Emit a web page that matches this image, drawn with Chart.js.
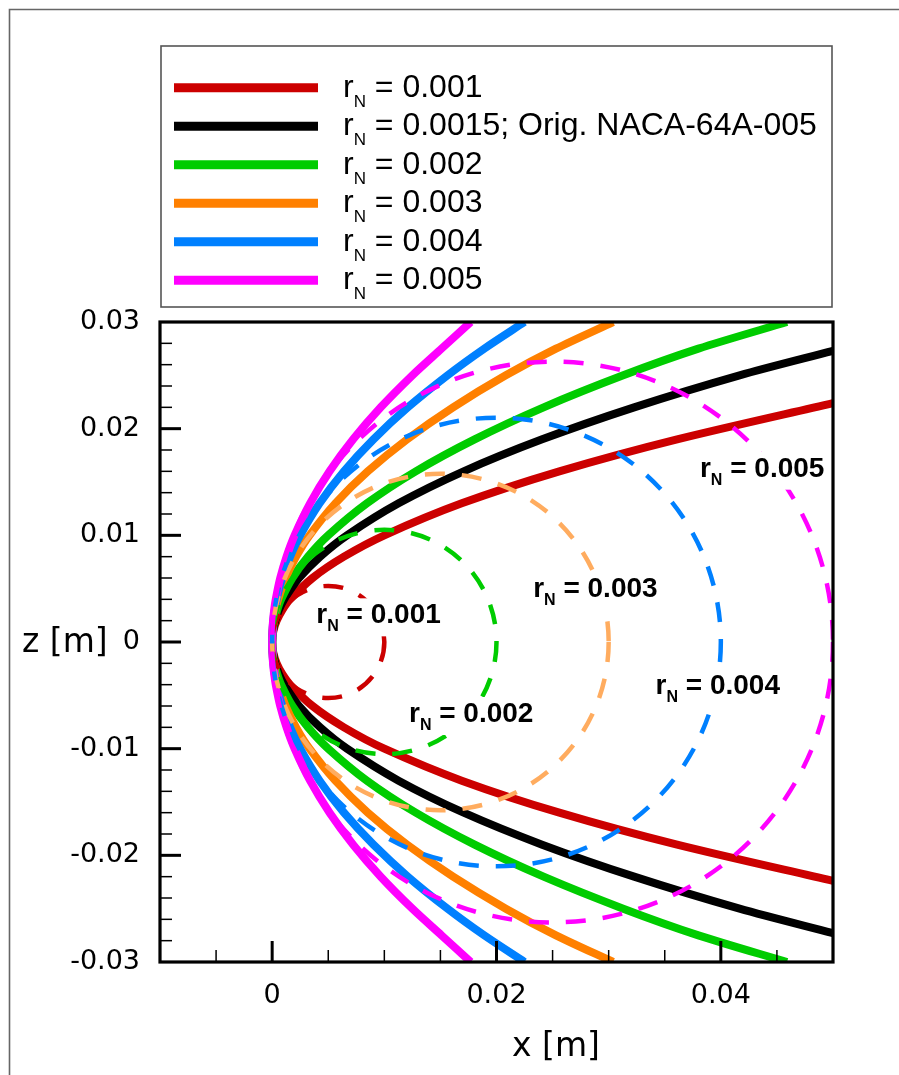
<!DOCTYPE html>
<html>
<head>
<meta charset="utf-8">
<title>Leading edge contours for different nose radii</title>
<script src="https://cdn.jsdelivr.net/npm/chart.js@4.4.0/dist/chart.umd.min.js"></script>
<style>
  html, body { margin: 0; padding: 0; background: #fff; }
  #wrap { width: 899px; height: 1075px; }
</style>
</head>
<body>
<div id="wrap"><canvas id="noseChart" width="899" height="1075"></canvas></div>
<script>
// nose radius r_N of each contour (normalised)
const noseRadii = ['0.001', '0.0015', '0.002', '0.003', '0.004', '0.005'];
const legendNotes = ['', '; Orig. NACA-64A-005', '', '', '', ''];
const lineColors = ['#cc0000', '#000000', '#00cc00', '#ff8000', '#0080ff', '#ff00ff'];

// upper surface from the leading edge, x and z in metres (lower side is the mirror)
const x_rN001 = [0, 0.0001, 0.0004, 0.0009, 0.0016, 0.0036, 0.0064, 0.0100, 0.0169, 0.0256, 0.0361, 0.0500];
const z_rN001 = [0, 0.0010, 0.0020, 0.0030, 0.0040, 0.0060, 0.0080, 0.0100, 0.0130, 0.0160, 0.0190, 0.0224];
const x_rN0015 = [0, 0.00007, 0.00027, 0.0006, 0.00107, 0.0024, 0.00427, 0.00667, 0.01127, 0.01707, 0.02407, 0.03227, 0.04167, 0.0500];
const z_rN0015 = [0, 0.0010, 0.0020, 0.0030, 0.0040, 0.0060, 0.0080, 0.0100, 0.0130, 0.0160, 0.0190, 0.0220, 0.0250, 0.0273];
const x_rN002 = [0, 0.00005, 0.0002, 0.00045, 0.0008, 0.0018, 0.0032, 0.0050, 0.00845, 0.0128, 0.01805, 0.0242, 0.0313, 0.0380, 0.0459];
const z_rN002 = [0, 0.0010, 0.0020, 0.0030, 0.0040, 0.0060, 0.0080, 0.0100, 0.0130, 0.0160, 0.0190, 0.0220, 0.0250, 0.0275, 0.0300];
const x_rN003 = [0, 0.00003, 0.00013, 0.0003, 0.00053, 0.0012, 0.00213, 0.00333, 0.00563, 0.00853, 0.01203, 0.01613, 0.02083, 0.0253, 0.0304];
const z_rN003 = [0, 0.0010, 0.0020, 0.0030, 0.0040, 0.0060, 0.0080, 0.0100, 0.0130, 0.0160, 0.0190, 0.0220, 0.0250, 0.0275, 0.0300];
const x_rN004 = [0, 0.00003, 0.0001, 0.00023, 0.0004, 0.0009, 0.0016, 0.0025, 0.00423, 0.0064, 0.00903, 0.0121, 0.01563, 0.0189, 0.0225];
const z_rN004 = [0, 0.0010, 0.0020, 0.0030, 0.0040, 0.0060, 0.0080, 0.0100, 0.0130, 0.0160, 0.0190, 0.0220, 0.0250, 0.0275, 0.0300];
const x_rN005 = [0, 0.00002, 0.00008, 0.00018, 0.00032, 0.00072, 0.00128, 0.0020, 0.00338, 0.00512, 0.00722, 0.00968, 0.0125, 0.0151, 0.0177];
const z_rN005 = [0, 0.0010, 0.0020, 0.0030, 0.0040, 0.0060, 0.0080, 0.0100, 0.0130, 0.0160, 0.0190, 0.0220, 0.0250, 0.0275, 0.0300];
const contourX = [x_rN001, x_rN0015, x_rN002, x_rN003, x_rN004, x_rN005];
const contourZ = [z_rN001, z_rN0015, z_rN002, z_rN003, z_rN004, z_rN005];

// nose circles, radius in metres, each touching the leading edge
const circleRadii = [0.005, 0.010, 0.015, 0.020, 0.025];
const circleNames = ['0.001', '0.002', '0.003', '0.004', '0.005'];
const circleColors = ['#cc0000', '#00cc00', '#ffac5f', '#0080ff', '#ff00ff'];
// where each circle label starts (x, z of the text baseline)
const circleLabelAt = [[0.00394, 0.00175], [0.0122, -0.0075], [0.02327, 0.00425], [0.03418, -0.00484], [0.03814, 0.0155]];

// labelled ticks
const xTickLabels = [0, 0.02, 0.04];
const zTickLabels = [-0.03, -0.02, -0.01, 0, 0.01, 0.02, 0.03];

const FONT = '"Liberation Sans", Arial, Helvetica, sans-serif';
const AXIS_FONT = '"DejaVu Sans", Verdana, sans-serif';

function contour(xs, zs) {
  const pts = [];
  for (let i = xs.length - 1; i > 0; i--) pts.push({x: xs[i], y: -zs[i]});
  for (let i = 0; i < xs.length; i++) pts.push({x: xs[i], y: zs[i]});
  return pts;
}

function isLabelled(list, v) {
  return list.some(t => Math.abs(t - v) < 1e-9);
}

function tickText(v) {
  return String(Math.round(v * 1000) / 1000);
}

// "r" + subscript N + rest, returns the drawn width
function drawRN(ctx, x, y, rest, big, small, drop, measureOnly) {
  ctx.font = big;
  let w = ctx.measureText('r').width;
  if (!measureOnly) ctx.fillText('r', x, y);
  ctx.font = small;
  if (!measureOnly) ctx.fillText('N', x + w, y + drop);
  w += ctx.measureText('N').width;
  ctx.font = big;
  if (!measureOnly) ctx.fillText(rest, x + w, y);
  return w + ctx.measureText(rest).width;
}

const decorations = {
  id: 'decorations',
  afterDatasetsDraw(chart) {
    const {ctx, chartArea: a, scales: {x, y}} = chart;
    ctx.save();
    ctx.beginPath();
    ctx.rect(a.left, a.top, a.right - a.left, a.bottom - a.top);
    ctx.clip();
    // dashed nose circles
    ctx.lineWidth = 4.5;
    ctx.setLineDash([20, 17]);
    circleRadii.forEach((r, i) => {
      const cx = x.getPixelForValue(r);
      const cy = y.getPixelForValue(0);
      const rad = cx - x.getPixelForValue(0);
      ctx.strokeStyle = circleColors[i];
      ctx.beginPath();
      ctx.arc(cx, cy, rad, 0, Math.PI * 2);
      ctx.stroke();
    });
    ctx.setLineDash([]);
    // circle labels on white boxes
    const big = 'bold 28px ' + FONT;
    const small = 'bold 16px ' + FONT;
    ctx.textBaseline = 'alphabetic';
    ctx.textAlign = 'left';
    circleLabelAt.forEach((p, i) => {
      const px = x.getPixelForValue(p[0]);
      const py = y.getPixelForValue(p[1]);
      const text = ' = ' + circleNames[i];
      const w = drawRN(ctx, px, py, text, big, small, 8, true);
      ctx.fillStyle = '#fff';
      ctx.fillRect(px - 6, py - 25, w + 12, 38);
      ctx.fillStyle = '#000';
      drawRN(ctx, px, py, text, big, small, 8, false);
    });
    ctx.restore();
  },
  afterDraw(chart) {
    const {ctx, chartArea: a, scales: {x, y}} = chart;
    ctx.save();
    // tick marks pointing into the plot
    ctx.strokeStyle = '#000';
    y.ticks.forEach(t => {
      if (Math.abs(t.value) > 0.0299) return;
      const py = y.getPixelForValue(t.value);
      const major = isLabelled(zTickLabels, t.value);
      ctx.lineWidth = major ? 3 : 1.5;
      ctx.beginPath();
      ctx.moveTo(a.left, py);
      ctx.lineTo(a.left + (major ? 21 : 12), py);
      ctx.stroke();
    });
    x.ticks.forEach(t => {
      if (t.value < -0.0099 || t.value > 0.0499) return;
      const px = x.getPixelForValue(t.value);
      const major = isLabelled(xTickLabels, t.value);
      ctx.lineWidth = major ? 3 : 1.5;
      ctx.beginPath();
      ctx.moveTo(px, a.bottom);
      ctx.lineTo(px, a.bottom - (major ? 21 : 12));
      ctx.stroke();
    });
    // plot frame
    ctx.lineWidth = 3.2;
    ctx.strokeRect(a.left, a.top, a.right - a.left, a.bottom - a.top);

    // axis titles
    ctx.fillStyle = '#000';
    ctx.font = '33px ' + AXIS_FONT;
    ctx.textAlign = 'left';
    ctx.textBaseline = 'alphabetic';
    ctx.fillText('z [m]', 22, 652);
    ctx.fillText('x [m]', 512, 1056);

    // legend
    ctx.fillStyle = '#fff';
    ctx.fillRect(161, 46, 671, 261);
    ctx.strokeStyle = '#555';
    ctx.lineWidth = 1.6;
    ctx.strokeRect(161, 46, 671, 261);
    noseRadii.forEach((r, i) => {
      const cy = 87.7 + i * 38.5;
      ctx.strokeStyle = lineColors[i];
      ctx.lineWidth = 9;
      ctx.beginPath();
      ctx.moveTo(174, cy);
      ctx.lineTo(318, cy);
      ctx.stroke();
      ctx.fillStyle = '#000';
      drawRN(ctx, 343, cy + 9, ' = ' + r + legendNotes[i], '32px ' + FONT, '17px ' + FONT, 10, false);
    });

    // page border
    ctx.strokeStyle = '#666';
    ctx.lineWidth = 1.6;
    ctx.beginPath();
    ctx.moveTo(9.5, 1075);
    ctx.lineTo(9.5, 9.5);
    ctx.lineTo(899, 9.5);
    ctx.stroke();
    ctx.restore();
  }
};

const datasets = noseRadii.map((r, i) => ({
  label: 'r_N = ' + r,
  data: contour(contourX[i], contourZ[i]),
  showLine: true,
  borderColor: lineColors[i],
  backgroundColor: lineColors[i],
  borderWidth: 8,
  pointRadius: 0,
  tension: 0.3,
  order: noseRadii.length - i
}));

new Chart(document.getElementById('noseChart'), {
  type: 'scatter',
  data: { datasets: datasets },
  options: {
    responsive: false,
    animation: false,
    devicePixelRatio: 1,
    layout: { padding: { top: 322, right: 66, left: 0, bottom: 0 } },
    plugins: { legend: { display: false }, tooltip: { enabled: false } },
    scales: {
      x: {
        type: 'linear',
        min: -0.01,
        max: 0.05,
        grid: { display: false, drawTicks: false },
        border: { display: false },
        afterFit(scale) { scale.height = 113; },
        ticks: {
          stepSize: 0.005,
          autoSkip: false,
          maxRotation: 0,
          padding: 18,
          color: '#000',
          font: { family: AXIS_FONT, size: 27 },
          callback: v => isLabelled(xTickLabels, v) ? tickText(v) : ''
        }
      },
      y: {
        type: 'linear',
        min: -0.03,
        max: 0.03,
        grid: { display: false, drawTicks: false },
        border: { display: false },
        afterFit(scale) { scale.width = 160; },
        ticks: {
          stepSize: 0.002,
          autoSkip: false,
          padding: 20,
          color: '#000',
          font: { family: AXIS_FONT, size: 27 },
          callback: v => isLabelled(zTickLabels, v) ? tickText(v) : ''
        }
      }
    }
  },
  plugins: [decorations]
});
</script>
</body>
</html>
